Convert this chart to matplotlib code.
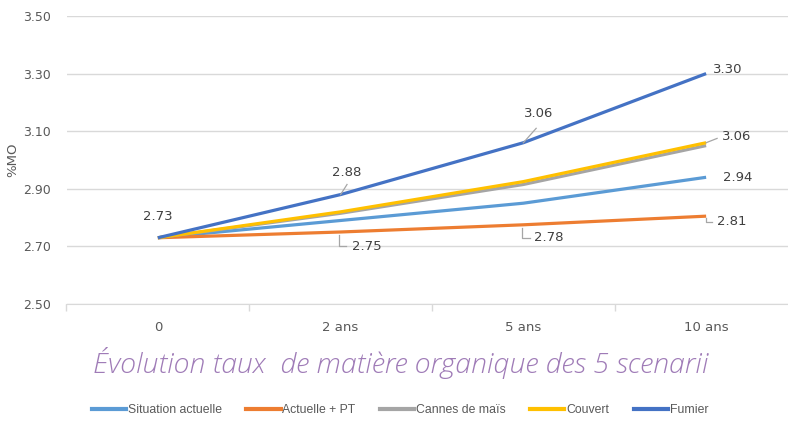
import matplotlib
matplotlib.use("Agg")
import matplotlib.pyplot as plt
from matplotlib.lines import Line2D

categories = ["0", "2 ans", "5 ans", "10 ans"]
situation_actuelle = [2.73, 2.79, 2.85, 2.94]
actuelle_pt = [2.73, 2.75, 2.775, 2.805]
cannes_mais = [2.73, 2.815, 2.915, 3.05]
couvert = [2.73, 2.82, 2.925, 3.06]
fumier = [2.73, 2.88, 3.06, 3.30]
series_names = ["Situation actuelle", "Actuelle + PT", "Cannes de maïs", "Couvert", "Fumier"]
yticks = [2.50, 2.70, 2.90, 3.10, 3.30, 3.50]

colors = ["#5B9BD5", "#ED7D31", "#A5A5A5", "#FFC000", "#4472C4"]
series = [situation_actuelle, actuelle_pt, cannes_mais, couvert, fumier]

fig = plt.figure(figsize=(7.88, 4.21), dpi=100)
ax = fig.add_axes([66.5/788, 1-304/421, 731/788, 288/421])
x = list(range(len(categories)))
for vals, c in zip(series, colors):
    ax.plot(x, vals, color=c, lw=2.3, solid_capstyle="butt", zorder=3)

ax.set_xlim(-0.5, 3.5)
ax.set_ylim(2.5, 3.5)
ax.set_yticks(yticks)
ax.set_yticklabels([f"{v:.2f}" for v in yticks])
ax.set_xticks(x)
ax.set_xticklabels(categories)
ax.set_xticks([-0.5, 0.5, 1.5, 2.5, 3.5], minor=True)
ax.tick_params(axis="x", which="major", length=0, pad=12, labelsize=9.5, labelcolor="#595959")
ax.tick_params(axis="x", which="minor", length=5, color="#d9d9d9", width=1)
ax.tick_params(axis="y", length=0, pad=11, labelsize=9, labelcolor="#595959")
ax.grid(axis="y", color="#d9d9d9", lw=1)
for s in ["top", "right", "left"]:
    ax.spines[s].set_visible(False)
ax.spines["bottom"].set_color("#d9d9d9")
fig.text(13/788, 1-160/421, "%MO", rotation=90, ha="center", va="center", color="#595959", fontsize=9.5)

lab_kw = dict(fontsize=9.5, color="#404040", zorder=5)
lead = dict(color="#a6a6a6", lw=0.9, zorder=4)
# 2.73 at start
ax.text(x[0], fumier[0] + 0.075, f"{fumier[0]:.2f}", ha="center", va="center", **lab_kw)
# fumier 2 ans
ax.plot([x[1], x[1] + 0.035], [fumier[1], fumier[1] + 0.035], **lead)
ax.text(x[1] + 0.035, fumier[1] + 0.075, f"{fumier[1]:.2f}", ha="center", va="center", **lab_kw)
# actuelle pt 2 ans
ax.plot([x[1] - 0.01, x[1] - 0.01, x[1] + 0.03], [actuelle_pt[1] - 0.01, actuelle_pt[1] - 0.05, actuelle_pt[1] - 0.05], **lead)
ax.text(x[1] + 0.06, actuelle_pt[1] - 0.05, f"{actuelle_pt[1]:.2f}", ha="left", va="center", **lab_kw)
# fumier 5 ans
ax.plot([x[2], x[2] + 0.07], [fumier[2], fumier[2] + 0.05], **lead)
ax.text(x[2] + 0.085, fumier[2] + 0.1, f"{fumier[2]:.2f}", ha="center", va="center", **lab_kw)
# actuelle pt 5 ans
ax.plot([x[2] - 0.005, x[2] - 0.005, x[2] + 0.035], [actuelle_pt[2] - 0.01, actuelle_pt[2] - 0.045, actuelle_pt[2] - 0.045], **lead)
ax.text(x[2] + 0.06, actuelle_pt[2] - 0.045, "2.78", ha="left", va="center", **lab_kw)
# fumier 10 ans
ax.text(x[3] + 0.04, fumier[3] + 0.015, f"{fumier[3]:.2f}", ha="left", va="center", **lab_kw)
# couvert 10 ans
ax.plot([x[3], x[3] + 0.06], [couvert[3], couvert[3] + 0.015], **lead)
ax.text(x[3] + 0.085, couvert[3] + 0.02, f"{couvert[3]:.2f}", ha="left", va="center", **lab_kw)
# situation 10 ans
ax.text(x[3] + 0.09, situation_actuelle[3] - 0.002, f"{situation_actuelle[3]:.2f}", ha="left", va="center", **lab_kw)
# actuelle pt 10 ans
ax.plot([x[3], x[3], x[3] + 0.03], [actuelle_pt[3] - 0.005, actuelle_pt[3] - 0.02, actuelle_pt[3] - 0.02], **lead)
ax.text(x[3] + 0.06, actuelle_pt[3] - 0.02, "2.81", ha="left", va="center", **lab_kw)

fig.text(401/788, 1-363/421, "Évolution taux  de matière organique des 5 scenarii",
         ha="center", va="center", fontsize=20.5, style="italic", fontweight="light",
         family=["Open Sans", "DejaVu Sans"], color="#9F7BB7")

handles = [Line2D([0], [0], color=c, lw=3) for c in colors]
fig.legend(handles, series_names, loc="center", bbox_to_anchor=(400/788, 1-410/421), ncol=5,
           frameon=False, handlelength=2.8, handletextpad=0.15, columnspacing=2.0,
           prop={"family": ["Liberation Sans", "DejaVu Sans"], "size": 8.8},
           labelcolor="#595959")

fig.savefig("out.png", dpi=100)
